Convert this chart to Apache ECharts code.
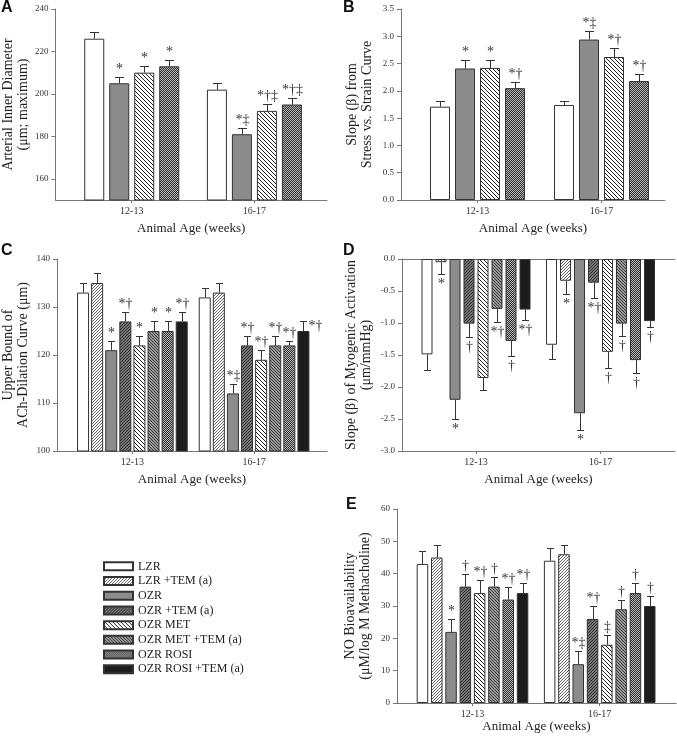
<!DOCTYPE html>
<html>
<head>
<meta charset="utf-8">
<script src="https://cdn.jsdelivr.net/npm/echarts@6/dist/echarts.min.js"></script>
<style>
  html, body { margin: 0; padding: 0; background: #fff; }
  #main { width: 677px; height: 740px; }
</style>
</head>
<body>
<div id="main"></div>
<script>
// ---- data ----
var groups = ['12-13', '16-17'];
var names = ['LZR', 'LZR +TEM (a)', 'OZR', 'OZR +TEM (a)', 'OZR MET', 'OZR MET +TEM (a)', 'OZR ROSI', 'OZR ROSI +TEM (a)'];

// A, B: only LZR, OZR, OZR MET, OZR ROSI
var idxAB = [0, 2, 4, 6];
var idxAll = [0, 1, 2, 3, 4, 5, 6, 7];

// series-major: [12-13, 16-17]
var diamMean = [[226, 202], [205, 181], [210, 192], [213, 195]];
var diamErr = [[3, 3], [3, 3], [3, 3], [3, 3]];
var diamSig = [['', ''], ['*', '*‡'], ['*', '*†‡'], ['*', '*†‡']];
var diamTicks = [160, 180, 200, 220, 240];

var slopeMean = [[1.71, 1.74], [2.41, 2.94], [2.42, 2.62], [2.05, 2.18]];
var slopeErr = [[0.11, 0.07], [0.15, 0.15], [0.15, 0.16], [0.12, 0.12]];
var slopeSig = [['', ''], ['*', '*‡'], ['*', '*†'], ['*†', '*†']];

var achMean = [[133, 132], [135, 133], [121, 112], [127, 122], [122, 119], [125, 122], [125, 122], [127, 125]];
var achErr = [[2, 2], [2, 2], [2, 2], [2, 2], [2, 2], [2, 2], [2, 1], [2, 2]];
var achSig = [['', ''], ['', ''], ['*', '*‡'], ['*†', '*†'], ['*', '*†'], ['*', '*†'], ['*', '*†'], ['*†', '*†']];

var myoMean = [[-1.49, -1.34], [-0.05, -0.34], [-2.20, -2.41], [-1.01, -0.37], [-1.86, -1.45], [-0.78, -1.01], [-1.28, -1.58], [-0.79, -0.97]];
var myoErr = [[0.24, 0.23], [0.19, 0.21], [0.30, 0.26], [0.21, 0.24], [0.19, 0.25], [0.20, 0.20], [0.23, 0.20], [0.16, 0.10]];
var myoSig = [['', ''], ['*', '*'], ['*', '*'], ['†', '*†'], ['', '†'], ['*†', '†'], ['†', '†'], ['*†', '†']];

var noMean = [[43, 44], [45, 46], [22, 12], [36, 26], [34, 18], [36, 29], [32, 34], [34, 30]];
var noErr = [[4, 4], [4, 3], [4, 4], [4, 4], [4, 3], [3, 3], [4, 3], [3, 3]];
var noSig = [['', ''], ['', ''], ['*', '*‡'], ['†', '*†'], ['*†', '‡'], ['†', '†'], ['*†', '†'], ['*†', '†']];

// ---- fills ----
function hatch(bg, fg, dir, step, lw) {
  var c = document.createElement('canvas');
  c.width = step; c.height = step;
  var g = c.getContext('2d');
  g.fillStyle = bg; g.fillRect(0, 0, step, step);
  g.strokeStyle = fg; g.lineWidth = lw;
  g.beginPath();
  if (dir > 0) {
    g.moveTo(0, step); g.lineTo(step, 0);
    g.moveTo(-1, 1); g.lineTo(1, -1);
    g.moveTo(step - 1, step + 1); g.lineTo(step + 1, step - 1);
  } else {
    g.moveTo(0, 0); g.lineTo(step, step);
    g.moveTo(-1, step - 1); g.lineTo(1, step + 1);
    g.moveTo(step - 1, -1); g.lineTo(step + 1, 1);
  }
  g.stroke();
  return { image: c, repeat: 'repeat' };
}
function checker(a, b) {
  var c = document.createElement('canvas');
  c.width = 2; c.height = 2;
  var g = c.getContext('2d');
  g.fillStyle = a; g.fillRect(0, 0, 2, 2);
  g.fillStyle = b; g.fillRect(0, 0, 1, 1); g.fillRect(1, 1, 1, 1);
  return { image: c, repeat: 'repeat' };
}
var fills = [
  '#ffffff',
  hatch('#ffffff', '#555555', 1, 3, 0.9),
  '#8c8c8c',
  hatch('#777777', '#2c2c2c', 1, 3, 1),
  hatch('#ffffff', '#222222', -1, 4, 1),
  hatch('#9a9a9a', '#3a3a3a', -1, 3, 1),
  checker('#2e2e2e', '#b8b8b8'),
  '#1c1c1c'
];

var SERIF = 'Liberation Serif';
var axisCol = '#777';
var txtCol = '#333';

var grids = [], xAxes = [], yAxes = [], series = [];

function panel(p) {
  var gi = grids.length;
  grids.push({ left: p.left, top: p.top, width: p.right - p.left, height: p.bottom - p.top });
  var span = p.c1 - p.c0;
  var xmin = -(p.c0 - p.left) / span;
  var xmax = 1 + (p.right - p.c1) / span;
  var xi = xAxes.length;
  xAxes.push({
    gridIndex: gi, type: 'value', min: xmin, max: xmax, position: 'bottom',
    splitLine: { show: false },
    axisLine: { show: true, onZero: false, lineStyle: { color: axisCol, width: 1 } },
    axisTick: { show: true, length: 3, customValues: [0, 1], lineStyle: { color: axisCol } },
    axisLabel: { customValues: [0, 1], formatter: function (v) { return groups[Math.round(v)]; },
      fontFamily: SERIF, fontSize: 10, color: txtCol, margin: 6 },
    name: 'Animal Age (weeks)', nameLocation: 'middle', nameGap: p.xNameGap,
    nameTextStyle: { fontFamily: SERIF, fontSize: 13, color: '#222' }
  });
  if (p.topLine) {
    xAxes.push({
      gridIndex: gi, type: 'value', min: xmin, max: xmax, position: 'top',
      splitLine: { show: false }, axisTick: { show: false }, axisLabel: { show: false },
      axisLine: { show: true, onZero: false, lineStyle: { color: axisCol, width: 1 } }
    });
  }
  var yi = yAxes.length;
  var ya = {
    gridIndex: gi, type: 'value', min: p.ymin, max: p.ymax,
    splitLine: { show: false },
    axisLine: { show: true, onZero: false, lineStyle: { color: axisCol, width: 1 } },
    axisTick: { show: true, length: 4, lineStyle: { color: axisCol } },
    axisLabel: { fontFamily: SERIF, fontSize: 9, color: txtCol, margin: 7,
      formatter: p.fmt },
    name: p.yname, nameLocation: 'middle', nameRotate: 90, nameGap: p.yNameGap,
    nameTextStyle: { fontFamily: SERIF, fontSize: 14, color: '#222', lineHeight: 15, align: 'center' }
  };
  if (p.ticks) {
    ya.axisTick.customValues = p.ticks;
    ya.axisLabel.customValues = p.ticks;
  } else {
    ya.interval = p.interval;
  }
  yAxes.push(ya);

  var n = p.idx.length;
  p.idx.forEach(function (si, k) {
    series.push({
      type: 'bar', name: names[si], xAxisIndex: xi, yAxisIndex: yi,
      barWidth: p.bw, barGap: (p.gap / p.bw * 100) + '%',
      itemStyle: { color: fills[si], borderColor: '#333', borderWidth: 1 },
      silent: true, animation: false,
      data: groups.map(function (g, j) { return [j, p.mean[k][j]]; })
    });
  });

  var errData = [];
  p.idx.forEach(function (si, k) {
    groups.forEach(function (g, j) { errData.push([j, k, p.mean[k][j], p.err[k][j]]); });
  });
  series.push({
    type: 'custom', xAxisIndex: xi, yAxisIndex: yi, z: 5, clip: false, silent: true, animation: false,
    data: errData,
    renderItem: function (params, api) {
      var j = api.value(0), k = api.value(1), v = api.value(2), e = api.value(3);
      var dx = (k - (n - 1) / 2) * (p.bw + p.gap);
      var p0 = api.coord([j, v]);
      var p1 = api.coord([j, p.down ? v - e : v + e]);
      var x = Math.round(p0[0] + dx) + 0.5;
      var y1 = Math.round(p1[1]) + 0.5;
      var st = { stroke: '#333', lineWidth: 1 };
      var ch = [
        { type: 'line', shape: { x1: x, y1: p0[1], x2: x, y2: y1 }, style: st },
        { type: 'line', shape: { x1: x - p.cap / 2, y1: y1, x2: x + p.cap / 2, y2: y1 }, style: st }
      ];
      var t = p.sig[k][j];
      if (t) {
        var side = p.side && p.side[0] === j && p.side[1] === k;
        ch.push({
          type: 'text',
          x: side ? x + 5 : x,
          y: side ? y1 + 5 : (p.down ? y1 + 3 : y1 - 1),
          style: {
            text: t, fill: txtCol, font: '14px "' + SERIF + '"',
            align: side ? 'left' : 'center',
            verticalAlign: side ? 'middle' : (p.down ? 'top' : 'bottom')
          }
        });
      }
      return { type: 'group', children: ch };
    }
  });
}

var fmt1 = function (v) { return v.toFixed(1); };

panel({ left: 52, right: 327, top: 9, bottom: 200, c0: 129.3, c1: 253.5,
  idx: idxAB, mean: diamMean, err: diamErr, sig: diamSig, bw: 20, gap: 5, cap: 9,
  ymin: 150, ymax: 240, ticks: diamTicks, yname: 'Arterial Inner Diameter\n(μm; maximum)',
  yNameGap: 24, xNameGap: 22 });
panel({ left: 401, right: 665, top: 9, bottom: 200, c0: 477.5, c1: 601.5,
  idx: idxAB, mean: slopeMean, err: slopeErr, sig: slopeSig, bw: 20, gap: 5, cap: 9,
  ymin: 0, ymax: 3.5, interval: 0.5, fmt: fmt1, yname: 'Slope (β) from\nStress vs. Strain Curve',
  yNameGap: 26, xNameGap: 22 });
panel({ left: 53, right: 327, top: 259, bottom: 451, c0: 129.5, c1: 253,
  idx: idxAll, mean: achMean, err: achErr, sig: achSig, bw: 12, gap: 2.1, cap: 7,
  ymin: 100, ymax: 140, interval: 10, yname: 'Upper Bound of\nACh-Dilation Curve (μm)',
  yNameGap: 26, xNameGap: 22, side: [1, 7] });
panel({ left: 402, right: 675, top: 259, bottom: 451, c0: 476, c1: 600.5,
  idx: idxAll, mean: myoMean, err: myoErr, sig: myoSig, bw: 11, gap: 3, cap: 7, down: true,
  ymin: -3, ymax: 0, interval: 0.5, fmt: fmt1, yname: 'Slope (β) of Myogenic Activation\n(μm/mmHg)',
  yNameGap: 28, xNameGap: 22, topLine: true });
panel({ left: 397, right: 676, top: 509, bottom: 703, c0: 472.5, c1: 599.7,
  idx: idxAll, mean: noMean, err: noErr, sig: noSig, bw: 11.5, gap: 2.8, cap: 7,
  ymin: 0, ymax: 60, interval: 10, yname: 'NO Bioavailability\n(μM/log M Methacholine)',
  yNameGap: 24, xNameGap: 15 });

var letters = [['A', 1, 0], ['B', 343, 0], ['C', 1, 243], ['D', 343, 243], ['E', 346, 497]];

var chart = echarts.init(document.getElementById('main'));
chart.setOption({
  animation: false,
  backgroundColor: '#fff',
  grid: grids,
  xAxis: xAxes,
  yAxis: yAxes,
  legend: {
    orient: 'vertical', left: 98, top: 554, padding: 5,
    data: names, itemWidth: 29, itemHeight: 8, itemGap: 0,
    icon: 'rect', selectedMode: false,
    textStyle: { fontFamily: SERIF, fontSize: 12, color: '#222', lineHeight: 14.7 }
  },
  graphic: letters.map(function (l) {
    return { type: 'text', left: l[1], top: l[2],
      style: { text: l[0], font: 'bold 16px "Liberation Sans"', fill: '#111' } };
  }),
  series: series
});
</script>
</body>
</html>
